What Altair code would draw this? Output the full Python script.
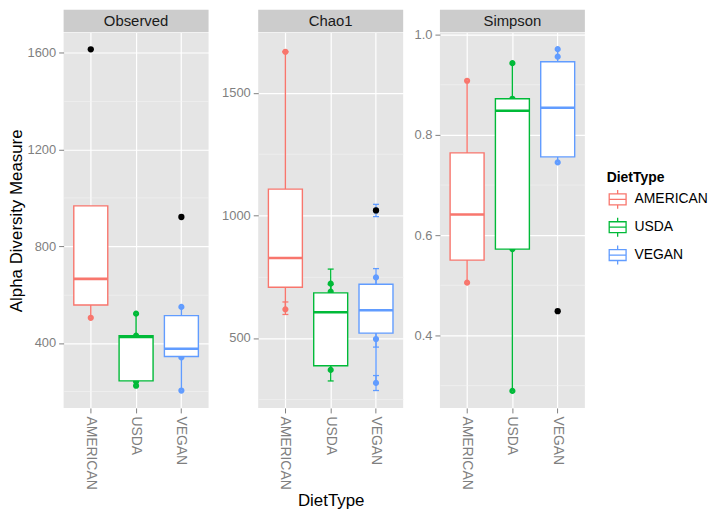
import altair as alt
import pandas as pd

FONT = "Liberation Sans"
diets = ["AMERICAN", "USDA", "VEGAN"]
colors = ["#F8766D", "#00BA38", "#619CFF"]

# ---- Observed ----
obs_q1 = [557, 243, 344]
obs_med = [665, 425, 376]
obs_q3 = [967, 430, 513]
obs_lo = [504, 223, 203]
obs_hi = [967, 521, 549]
obs_pt_diet = ["AMERICAN", "USDA", "USDA", "USDA", "USDA", "VEGAN", "VEGAN", "VEGAN"]
obs_pt_val = [504, 521, 430, 240, 223, 549, 340, 203]
obs_out_diet = ["AMERICAN", "VEGAN"]
obs_out_val = [1615, 921]

# ---- Chao1 ----
chao_q1 = [707, 387, 520]
chao_med = [826, 605, 613]
chao_q3 = [1107, 684, 719]
chao_lo = [617, 370, 317]
chao_hi = [1667, 722, 747]
chao_pt_diet = ["AMERICAN", "AMERICAN", "USDA", "USDA", "USDA", "VEGAN", "VEGAN", "VEGAN", "VEGAN"]
chao_pt_val = [1667, 617, 722, 689, 370, 1020, 747, 496, 317]
chao_pt_lo = [1667, 596, 663, 660, 325, 995, 711, 463, 286]
chao_pt_hi = [1667, 647, 781, 718, 412, 1045, 783, 529, 347]
chao_out_diet = ["VEGAN"]
chao_out_val = [1020]

# ---- Simpson ----
simp_q1 = [0.550, 0.572, 0.756]
simp_med = [0.641, 0.848, 0.854]
simp_q3 = [0.764, 0.872, 0.946]
simp_lo = [0.505, 0.289, 0.745]
simp_hi = [0.908, 0.943, 0.971]
simp_pt_diet = ["AMERICAN", "AMERICAN", "USDA", "USDA", "USDA", "USDA", "VEGAN", "VEGAN", "VEGAN"]
simp_pt_val = [0.908, 0.505, 0.943, 0.872, 0.572, 0.289, 0.971, 0.956, 0.745]
simp_out_diet = ["VEGAN"]
simp_out_val = [0.448]

W, H = 146, 378
legend_path = ("M-0.85,-0.55L0.85,-0.55L0.85,0.55L-0.85,0.55Z"
               "M-0.85,0L0.85,0M0,-0.55L0,-0.95M0,0.55L0,0.95")

stroke_scale = alt.Scale(domain=diets, range=colors)
LEGEND = alt.Legend(title="DietType", orient="none", legendX=547, legendY=139, padding=0,
                    symbolType=legend_path, symbolSize=400, symbolFillColor="white",
                    symbolStrokeWidth=1.3, titleFontSize=14, titleFont=FONT,
                    titleFontWeight="bold", titleColor="black", labelFontSize=14,
                    labelFont=FONT, labelColor="black", rowPadding=2, titlePadding=4,
                    labelOffset=6)


def S():
    return alt.Stroke("diet:N", scale=stroke_scale, legend=LEGEND, title="DietType")


def panel(name, q1, med, q3, lo, hi, pdiet, pval, odiet, oval, domain, values,
          major_test, label_fmt, extent, ytitle, xtitle, elo=None, ehi=None):
    box = pd.DataFrame({"diet": diets, "q1": q1, "med": med, "q3": q3, "lo": lo, "hi": hi})
    pts = pd.DataFrame({"diet": pdiet, "value": pval})
    outs = pd.DataFrame({"diet": odiet, "value": oval})

    x = alt.X("diet:N", scale=alt.Scale(domain=diets, paddingInner=0.25, paddingOuter=0.225),
              axis=alt.Axis(title=xtitle, labelAngle=90, labelFontSize=14, labelFont=FONT,
                            labelColor="#7f7f7f", tickColor="#7f7f7f", tickSize=5, domain=False,
                            grid=True, gridColor="white", gridWidth=1.2, labelPadding=3,
                            titleFontSize=17, titleFont=FONT, titleColor="black",
                            titleFontWeight="normal", titlePadding=3))
    yaxis = alt.Axis(title=ytitle, values=values, labelExpr=f"{major_test} ? {label_fmt} : ''",
                     gridColor={"condition": {"test": major_test, "value": "white"}, "value": "#f3f3f3"},
                     gridWidth={"condition": {"test": major_test, "value": 1.2}, "value": 0.6},
                     tickOpacity={"condition": {"test": major_test, "value": 1}, "value": 0},
                     tickColor="#7f7f7f", tickSize=5, domain=False, labelColor="#7f7f7f",
                     labelFontSize=13, labelFont=FONT, labelPadding=3,
                     minExtent=extent, maxExtent=extent,
                     titleFontSize=17, titleFont=FONT, titleColor="black",
                     titleFontWeight="normal", titlePadding=1)
    ysc = alt.Scale(domain=domain, nice=False, zero=False)

    def Y(f):
        return alt.Y(f"{f}:Q", scale=ysc, axis=yaxis)

    strip_df = pd.DataFrame({"t": [name]})
    strip = alt.Chart(strip_df).mark_rect(fill="#cccccc").encode(
        x=alt.value(0), x2=alt.value(W), y=alt.value(-23), y2=alt.value(-0.5))
    strip_txt = alt.Chart(strip_df).mark_text(fontSize=15, font=FONT, color="#1a1a1a",
                                             baseline="middle").encode(
        x=alt.value(W / 2), y=alt.value(-11.5), text="t:N")

    layers = [strip, strip_txt]
    # coloured points (a tiny circle with a thick stroke, so only the stroke channel is used)
    layers.append(alt.Chart(pts).mark_point(shape="circle", filled=False, size=8,
                                            strokeWidth=3.4, opacity=1).encode(
        x=x, y=Y("value"), stroke=S()))
    if elo is not None:
        err = pd.DataFrame({"diet": pdiet, "elo": elo, "ehi": ehi})
        layers.append(alt.Chart(err).mark_rule(strokeWidth=1.3).encode(
            x=x, y=Y("elo"), y2="ehi", stroke=S()))
        for f in ["elo", "ehi"]:
            layers.append(alt.Chart(err).mark_point(shape="stroke", size=36, strokeWidth=1.3,
                                                    opacity=1).encode(
                x=x, y=Y(f), stroke=S()))
    rules = alt.Chart(box).mark_rule(strokeWidth=1.4)
    layers.append(rules.encode(x=x, y=Y("lo"), y2="q1", stroke=S()))
    layers.append(rules.encode(x=x, y=Y("q3"), y2="hi", stroke=S()))
    layers.append(alt.Chart(box).mark_bar(fill="white", strokeWidth=1.4).encode(
        x=x, y=Y("q1"), y2="q3", stroke=S()))
    layers.append(alt.Chart(box).mark_bar(fill="white", strokeWidth=2.6).encode(
        x=x, y=Y("med"), y2="med", stroke=S()))
    layers.append(alt.Chart(outs).mark_circle(size=40, opacity=1, color="black").encode(
        x=x, y=Y("value")))
    return alt.layer(*layers).properties(width=W, height=H)


p1 = panel("Observed", obs_q1, obs_med, obs_q3, obs_lo, obs_hi, obs_pt_diet, obs_pt_val,
           obs_out_diet, obs_out_val, [131, 1684], [200, 400, 600, 800, 1000, 1200, 1400, 1600],
           "datum.value % 400 === 0", "format(datum.value, 'd')", 37,
           "Alpha Diversity Measure", None)
p2 = panel("Chao1", chao_q1, chao_med, chao_q3, chao_lo, chao_hi, chao_pt_diet, chao_pt_val,
           chao_out_diet, chao_out_val, [215, 1745], [250, 500, 750, 1000, 1250, 1500],
           "datum.value % 500 === 0", "format(datum.value, 'd')", 45,
           None, "DietType", elo=chao_pt_lo, ehi=chao_pt_hi)
p3 = panel("Simpson", simp_q1, simp_med, simp_q3, simp_lo, simp_hi, simp_pt_diet, simp_pt_val,
           simp_out_diet, simp_out_val, [0.255, 1.004], [0.3, 0.4, 0.5, 0.6, 0.7, 0.8, 0.9, 1.0],
           "round(datum.value * 10) % 2 === 0", "format(datum.value, '.1f')", 32,
           None, None)

chart = alt.hconcat(p1, p2, p3, spacing=5).properties(
    padding=0, background="white"
).configure_view(fill="#e5e5e5", stroke=None)

chart.save("out.html", embed_options={"renderer": "svg", "actions": False})
